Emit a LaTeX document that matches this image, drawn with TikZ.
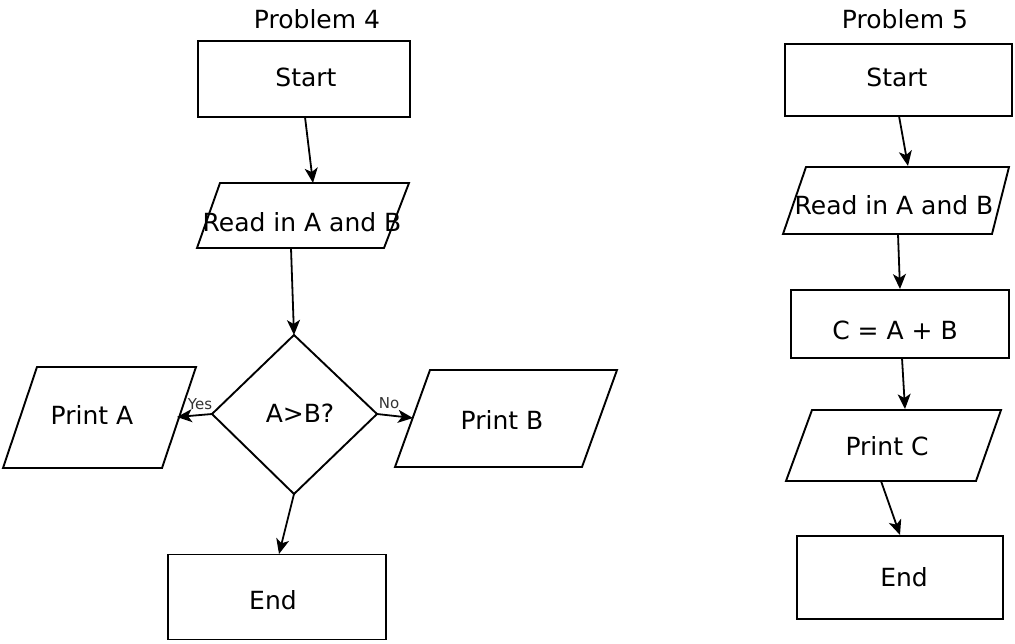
\documentclass[tikz,border=0pt]{standalone}
\usepackage{fontspec}
\setmainfont{DejaVu Sans}
\usetikzlibrary{arrows.meta}
\begin{document}
\begin{tikzpicture}[x=1pt,y=-1pt,
  boxline/.style={draw=black, line width=1.9pt, line join=miter},
  flow/.style={draw=black, line width=1.8pt, -{Stealth[length=15pt,width=13pt,inset=4pt]}},
  lbl/.style={font=\fontsize{25}{29}\selectfont, inner sep=0pt, text=black},
  small/.style={font=\fontsize{15}{17}\selectfont, inner sep=0pt, text=black!80}]
\useasboundingbox (0,0) rectangle (1015,643);

% ---------------- Problem 4 ----------------
\node[lbl] (title4) at (317,19) {Problem 4};

\node[boxline, minimum width=212pt, minimum height=76pt] (start4) at (304,79) {};
\node[lbl] (start4t) at (306,77) {Start};

% input parallelogram
\coordinate (r4a) at (220,183);
\coordinate (r4b) at (409,183);
\coordinate (r4c) at (384,248);
\coordinate (r4d) at (197,248);
\draw[boxline] (r4a)--(r4b)--(r4c)--(r4d)--cycle;
\node[lbl] (read4) at (302,222) {Read in A and B};

% decision
\coordinate (d4t) at (294,335);
\coordinate (d4r) at (377,414);
\coordinate (d4b) at (294,494);
\coordinate (d4l) at (212,414);
\draw[boxline] (d4t)--(d4r)--(d4b)--(d4l)--cycle;
\node[lbl] (dec4) at (300,413) {A>B?};

% print A
\coordinate (pa1) at (37,367);
\coordinate (pa2) at (196,367);
\coordinate (pa3) at (162,468);
\coordinate (pa4) at (3,468);
\draw[boxline] (pa1)--(pa2)--(pa3)--(pa4)--cycle;
\node[lbl] (printA) at (92,415) {Print A};
\coordinate (paIn) at (177,417);

% print B
\coordinate (pb1) at (430,370);
\coordinate (pb2) at (617,370);
\coordinate (pb3) at (582,467);
\coordinate (pb4) at (395,467);
\draw[boxline] (pb1)--(pb2)--(pb3)--(pb4)--cycle;
\node[lbl] (printB) at (502,420) {Print B};
\coordinate (pbIn) at (413,418);

\node[boxline, minimum width=218pt, minimum height=85pt] (end4) at (277,597) {};
\node[lbl] (end4t) at (273,600) {End};

% connectors
\coordinate (s4out) at (305,117);
\coordinate (r4in) at (313,183);
\coordinate (r4out) at (291,248);
\coordinate (e4in) at (279,554);
\draw[flow] (s4out) -- (r4in);
\draw[flow] (r4out) -- (d4t);
\draw[flow] (d4l) -- (paIn);
\draw[flow] (d4r) -- (pbIn);
\draw[flow] (d4b) -- (e4in);
\node[small] (yes) at (200,404) {Yes};
\node[small] (no) at (389,403) {No};

% ---------------- Problem 5 ----------------
\node[lbl] (title5) at (905,19) {Problem 5};

\node[boxline, minimum width=227pt, minimum height=72pt] (start5) at (898.5,80) {};
\node[lbl] (start5t) at (897,77) {Start};

\coordinate (r5a) at (806,167);
\coordinate (r5b) at (1009,167);
\coordinate (r5c) at (992,234);
\coordinate (r5d) at (783,234);
\draw[boxline] (r5a)--(r5b)--(r5c)--(r5d)--cycle;
\node[lbl] (read5) at (894,205) {Read in A and B};

\node[boxline, minimum width=218pt, minimum height=68pt] (calc5) at (900,324) {};
\node[lbl] (calc5t) at (895,330) {C = A + B};

\coordinate (pc1) at (812,410);
\coordinate (pc2) at (1001,410);
\coordinate (pc3) at (976,481);
\coordinate (pc4) at (786,481);
\draw[boxline] (pc1)--(pc2)--(pc3)--(pc4)--cycle;
\node[lbl] (printC) at (887,446) {Print C};

\node[boxline, minimum width=206pt, minimum height=83pt] (end5) at (900,577.5) {};
\node[lbl] (end5t) at (904,577) {End};

\coordinate (s5out) at (899,116);
\coordinate (r5in) at (908,166);
\coordinate (r5out) at (898,234);
\coordinate (c5in) at (900,289);
\coordinate (c5out) at (902,358);
\coordinate (pcIn) at (905,409);
\coordinate (pcOut) at (881,481);
\coordinate (e5in) at (900,535);
\draw[flow] (s5out) -- (r5in);
\draw[flow] (r5out) -- (c5in);
\draw[flow] (c5out) -- (pcIn);
\draw[flow] (pcOut) -- (e5in);
\end{tikzpicture}
\end{document}
